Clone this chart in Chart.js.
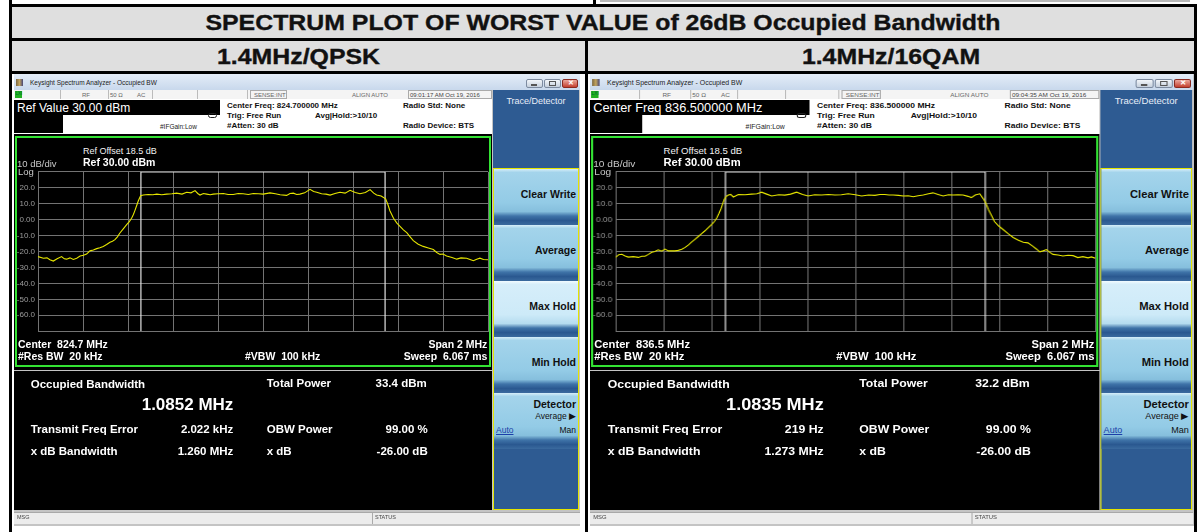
<!DOCTYPE html>
<html>
<head>
<meta charset="utf-8">
<script src="https://cdn.jsdelivr.net/npm/chart.js@4.4.1/dist/chart.umd.min.js"></script>
<style>
body{margin:0;width:1197px;height:532px;background:#fff;position:relative;overflow:hidden;font-family:"Liberation Sans",Arial,sans-serif;}
.a{position:absolute;white-space:pre;line-height:1;}
.big{position:absolute;font-weight:bold;font-size:22px;line-height:1;color:#111;white-space:pre;transform:scaleX(1.13);transform-origin:50% 0;text-align:center;-webkit-text-stroke:0.35px #111;}
.win{position:absolute;top:74px;width:566px;height:452px;transform-origin:0 0;background:#c4c4c4;}
.key{background:linear-gradient(#d6eef9 0%,#a4d4eb 6%,#93cbe6 60%,#86bfdd 76%,#3f73a8 84%,#2a5890 92%,#3a6a9e 100%);}
.key.sel{background:linear-gradient(#f2fbff 0%,#d6eefa 6%,#cdeaf8 60%,#b5dcef 76%,#3f73a8 84%,#2a5890 92%,#3a6a9e 100%);}
</style>
</head>
<body>
<script>
// trace 1.4MHz/QPSK : offset from centre (MHz), level (dBm)
const qpskFreq = [-1.000,-0.976,-0.960,-0.947,-0.932,-0.915,-0.895,-0.883,-0.873,-0.858,-0.843,-0.828,-0.813,-0.798,-0.784,-0.769,-0.754,-0.739,-0.725,-0.710,-0.695,-0.680,-0.669,-0.658,-0.647,-0.636,-0.621,-0.606,-0.595,-0.584,-0.576,-0.569,-0.561,-0.554,-0.544,-0.532,-0.510,-0.490,-0.472,-0.450,-0.428,-0.405,-0.384,-0.360,-0.339,-0.320,-0.302,-0.290,-0.280,-0.265,-0.250,-0.235,-0.221,-0.200,-0.176,-0.155,-0.132,-0.110,-0.088,-0.065,-0.043,-0.020,0.001,0.031,0.055,0.076,0.105,0.120,0.135,0.150,0.164,0.185,0.209,0.225,0.239,0.260,0.280,0.298,0.320,0.342,0.365,0.387,0.410,0.431,0.455,0.476,0.492,0.505,0.525,0.545,0.555,0.564,0.580,0.595,0.609,0.624,0.639,0.654,0.668,0.690,0.712,0.735,0.757,0.772,0.787,0.800,0.816,0.840,0.861,0.880,0.905,0.920,0.935,0.950,0.964,0.980,1.000];
const qpskLevel = [-23.2,-24.2,-24.0,-25.2,-26.0,-24.5,-23.2,-24.6,-24.8,-24.0,-25.0,-24.2,-22.8,-22.4,-21.6,-19.6,-19.0,-18.2,-17.6,-16.8,-15.6,-14.2,-13.6,-12.6,-10.8,-8.4,-5.8,-3.2,-1.4,0.8,3.2,5.8,9.0,11.8,15.0,15.4,15.8,15.6,16.0,15.6,16.0,16.2,16.6,16.0,17.2,16.8,18.2,16.4,15.4,16.4,16.0,15.6,16.0,16.2,16.4,15.8,15.8,16.4,16.2,15.8,16.4,16.2,16.0,16.8,16.2,15.6,15.2,16.4,16.6,15.8,16.0,16.8,19.0,17.6,17.2,16.2,16.0,15.4,16.4,17.2,16.6,18.4,17.0,16.2,17.0,18.8,16.6,15.4,14.8,13.0,9.5,5.6,0.8,-2.2,-4.2,-6.4,-8.2,-10.8,-13.2,-15.4,-16.8,-17.8,-18.8,-20.6,-21.8,-21.6,-22.8,-23.8,-24.8,-24.0,-24.2,-25.0,-25.8,-24.8,-24.2,-25.0,-25.2];
// trace 1.4MHz/16QAM
const qamFreq = [-1.000,-0.987,-0.974,-0.960,-0.947,-0.926,-0.905,-0.890,-0.877,-0.863,-0.849,-0.836,-0.822,-0.808,-0.794,-0.780,-0.766,-0.752,-0.739,-0.724,-0.710,-0.696,-0.682,-0.669,-0.655,-0.641,-0.627,-0.613,-0.599,-0.588,-0.578,-0.569,-0.560,-0.553,-0.547,-0.538,-0.530,-0.520,-0.509,-0.498,-0.488,-0.460,-0.433,-0.410,-0.391,-0.370,-0.349,-0.320,-0.294,-0.270,-0.245,-0.220,-0.197,-0.170,-0.141,-0.112,-0.085,-0.058,-0.030,0.000,0.026,0.055,0.081,0.102,0.123,0.140,0.158,0.180,0.200,0.221,0.241,0.262,0.283,0.305,0.324,0.345,0.366,0.388,0.408,0.428,0.449,0.470,0.484,0.500,0.519,0.533,0.544,0.556,0.570,0.580,0.598,0.616,0.637,0.658,0.680,0.700,0.720,0.741,0.755,0.769,0.783,0.797,0.810,0.824,0.845,0.866,0.887,0.908,0.928,0.949,0.970,0.985,1.000];
const qamLevel = [-23.7,-22.0,-21.7,-22.8,-23.5,-23.2,-23.7,-23.0,-23.0,-21.8,-20.5,-20.0,-18.9,-19.8,-18.5,-19.6,-19.5,-19.6,-19.3,-18.6,-17.4,-15.8,-14.0,-12.4,-10.6,-8.8,-7.0,-5.0,-3.0,-1.2,1.0,3.8,7.0,10.0,12.6,14.6,15.4,15.8,14.2,15.0,15.8,15.6,16.0,16.2,17.2,16.0,14.8,15.6,15.4,16.0,17.2,15.8,14.8,15.6,15.4,15.8,15.4,15.6,16.2,15.6,14.8,15.4,15.2,15.8,15.8,15.4,15.4,15.2,14.8,15.0,14.4,15.0,15.4,16.2,16.8,15.8,14.8,15.6,15.4,15.6,15.4,14.6,13.8,15.4,16.2,13.2,10.4,6.0,2.0,-1.2,-4.0,-6.2,-8.8,-11.2,-13.0,-14.2,-14.6,-16.8,-18.4,-20.2,-19.6,-18.8,-20.4,-21.8,-22.2,-22.8,-22.4,-22.6,-23.8,-23.2,-24.0,-23.4,-24.2];
// occupied bandwidth edges (MHz offset)
const obwQpsk = [-0.5426, 0.5426];
const obwQam = [-0.5418, 0.5418];
const yRange = [-70, 30];

const panels = [
  {left: 14, sx: 1, title: "1.4MHz/QPSK", stamp: "09:01:17 AM Oct 19, 2016", refBox: "Ref Value 30.00 dBm",
   cf: "824.700000 MHz", center: "824.7 MHz", obw: "1.0852 MHz", power: "33.4 dBm", ferr: "2.022 kHz", xbw: "1.260 MHz",
   freq: qpskFreq, level: qpskLevel, edges: obwQpsk},
  {left: 590, sx: 1.0656, title: "1.4MHz/16QAM", stamp: "09:04:35 AM Oct 19, 2016", refBox: "Center Freq 836.500000 MHz",
   cf: "836.500000 MHz", center: "836.5 MHz", obw: "1.0835 MHz", power: "32.2 dBm", ferr: "219 Hz", xbw: "1.273 MHz",
   freq: qamFreq, level: qamLevel, edges: obwQam},
];

// text placed by its cap-top
function t(x, cap, fs, s, css) {
  return `<div class="a" style="left:${x}px;top:${(cap - 0.13 * fs).toFixed(1)}px;font-size:${fs}px;${css || ""}">${s}</div>`;
}
function tr(r, cap, fs, s, css) {
  return `<div class="a" style="right:${(566 - r).toFixed(1)}px;top:${(cap - 0.13 * fs).toFixed(1)}px;font-size:${fs}px;${css || ""}">${s}</div>`;
}
function box(x, y, w, h, css) {
  return `<div class="a" style="left:${x}px;top:${y}px;width:${w}px;height:${h}px;${css}"></div>`;
}

// table frame
let page = "";
page += box(9, 4, 1188, 3, "background:#000");
page += box(593, 0, 3, 4, "background:#000");
page += box(600, 0, 590, 2, "background:#b8b8b8");
page += box(12, 7, 1182, 31, "background:#dfdfdf");
page += box(9, 38, 1188, 3, "background:#000");
page += box(12, 41, 1182, 30, "background:#dfdfdf");
page += box(9, 71, 1188, 3, "background:#000");
page += box(9, 0, 3, 532, "background:#000");
page += box(585, 41, 3, 491, "background:#000");
page += box(1194, 4, 3, 528, "background:#000");
page += `<div class="big" style="left:12px;width:1182px;top:12.1px">SPECTRUM PLOT OF WORST VALUE of 26dB Occupied Bandwidth</div>`;
page += `<div class="big" style="left:12px;width:573px;top:46.4px">${panels[0].title}</div>`;
page += `<div class="big" style="left:588px;width:606px;top:46.4px">${panels[1].title}</div>`;
document.body.insertAdjacentHTML("beforeend", page);

const wbtn = "background:linear-gradient(#f3f6fa,#c5d0dd);border:1px solid #7d8ba0;border-radius:2px;box-sizing:border-box";

function buildWindow(p, idx) {
  const w = document.createElement("div");
  w.className = "win";
  w.style.left = p.left + "px";
  w.style.transform = `scaleX(${p.sx})`;
  let h = "";
  // title bar
  h += box(0, 0, 566, 16, "background:linear-gradient(#e4edf8,#c8d8ec)");
  h += box(2, 5, 7, 7, "background:linear-gradient(90deg,#7a6640,#c2a460,#464678)");
  h += t(16, 7, 6.5, "Keysight Spectrum Analyzer - Occupied BW", "color:#222");
  h += box(512, 5, 17, 9, wbtn);
  h += box(530, 5, 17, 9, wbtn);
  h += box(548, 5, 16, 9, "background:linear-gradient(#eba79d,#c4402f);border:1px solid #8a2a20;border-radius:2px;box-sizing:border-box");
  h += box(517, 10, 6, 2, "background:#555");
  h += box(535, 7, 7, 5, "border:1px solid #555;box-sizing:border-box");
  h += t(553.5, 7.2, 6.5, "✕", "color:#fff;font-weight:bold");
  // status row
  h += box(0, 16, 478, 9, "background:#f4f4f4");
  h += box(1, 17, 7, 7, "background:#21b021");
  h += t(1.5, 19, 4.5, "LXI", "color:#063");
  [46, 94, 138, 183, 233].forEach(x => { h += box(x, 16, 1, 9, "background:#bbb"); });
  h += box(236, 16, 37, 9, "border:1px solid #aaa;box-sizing:border-box");
  h += box(394, 16, 84, 9, "border:1px solid #aaa;box-sizing:border-box");
  h += t(68, 18.6, 6, "RF", "color:#666");
  h += t(96, 18.6, 6, "50 Ω", "color:#666");
  h += t(123, 18.6, 6, "AC", "color:#666");
  h += t(240, 18.6, 6, "SENSE:INT", "color:#666");
  h += t(338, 18.6, 6, "ALIGN AUTO", "color:#666");
  h += t(396, 18.6, 6, p.stamp, "color:#444");
  // measurement header
  h += box(0, 25, 478, 35, "background:#fff");
  h += box(0, 26, 206, 15, "background:#000");
  h += box(0, 41, 49, 18, "background:#000");
  h += t(3, 30, 12, p.refBox, "color:#fff");
  h += t(213, 29.3, 8, "Center Freq: " + p.cf, "font-weight:bold;color:#111");
  h += t(213, 38.7, 8, "Trig: Free Run", "font-weight:bold;color:#111");
  h += t(213, 49, 8, "#Atten: 30 dB", "font-weight:bold;color:#111");
  h += t(301, 38.7, 8, "Avg|Hold:>10/10", "font-weight:bold;color:#111");
  h += t(389, 29.3, 8, "Radio Std: None", "font-weight:bold;color:#111");
  h += t(389, 49.3, 8, "Radio Device: BTS", "font-weight:bold;color:#111");
  h += t(146, 51, 6.5, "#IFGain:Low", "color:#222");
  h += box(194, 39, 9, 5, "border:1px solid #222;border-radius:3px;box-sizing:border-box");
  // graticule panel
  h += box(0, 60, 478, 236, "background:#000");
  h += box(1, 62, 476, 231, "border:2px solid #33e233;box-sizing:border-box");
  h += `<canvas id="c${idx}" width="472" height="175" class="a" style="left:3px;top:90px"></canvas>`;
  h += t(69, 73.7, 9, "Ref Offset 18.5 dB", "color:#f2f2f2");
  h += t(69, 84.3, 10.5, "Ref 30.00 dBm", "color:#fff;font-weight:bold");
  h += t(3, 86, 9.5, "10 dB/div", "color:#c8c8c8");
  h += t(4, 94.3, 9.5, "Log", "color:#c8c8c8");
  h += t(4, 266, 10.5, "Center  " + p.center, "color:#fff;font-weight:bold");
  h += t(4, 278.7, 10.5, "#Res BW  20 kHz", "color:#fff;font-weight:bold");
  h += t(231, 278.7, 10.5, "#VBW  100 kHz", "color:#fff;font-weight:bold");
  h += tr(473.3, 266, 10.5, "Span 2 MHz", "color:#fff;font-weight:bold");
  h += tr(473.3, 278.7, 10.5, "Sweep  6.067 ms", "color:#fff;font-weight:bold");
  // result panel
  const b = "color:#fff;font-weight:bold";
  h += box(0, 297, 478, 139, "background:#000");
  h += t(16.7, 306, 11.5, "Occupied Bandwidth", b);
  h += t(127.7, 324, 17, p.obw, b);
  h += t(252.7, 305.3, 11.5, "Total Power", b);
  h += tr(412.7, 305.3, 11.5, p.power, b);
  h += t(16.7, 351.7, 11.5, "Transmit Freq Error", b);
  h += tr(219.3, 351.7, 11.5, p.ferr, b);
  h += t(252.7, 351.7, 11.5, "OBW Power", b);
  h += tr(413.7, 351.7, 11.5, "99.00 %", b);
  h += t(16.7, 373, 11.5, "x dB Bandwidth", b);
  h += tr(219.3, 373, 11.5, p.xbw, b);
  h += t(252.7, 373, 11.5, "x dB", b);
  h += tr(413.7, 373, 11.5, "-26.00 dB", b);
  // status bar
  h += box(0, 438, 566, 12, "background:#ececec;border-top:1px solid #a8a8a8;box-sizing:border-box");
  h += box(358, 439, 1, 11, "background:#aaa");
  h += t(3, 442, 5.5, "MSG", "color:#444");
  h += t(361, 442, 5.5, "STATUS", "color:#444");
  // softkeys
  h += box(479, 16, 86, 420, "background:#2e5b92");
  h += `<div class="a" style="left:479px;width:86px;text-align:center;top:23.1px;font-size:9px;color:#e8eef8">Trace/Detector</div>`;
  h += box(479, 94, 86, 342, "border:1px solid #e4e400;box-sizing:border-box");
  ["Clear Write", "Average", "Max Hold", "Min Hold"].forEach((k, i) => {
    const y = 95 + 56 * i;
    h += `<div class="a key${k === "Max Hold" ? " sel" : ""}" style="left:480px;top:${y}px;width:84px;height:56px"></div>`;
    h += tr(562, y + 21, 10.5, k, "font-weight:bold;color:#111");
  });
  const dy = 95 + 224;
  h += `<div class="a key" style="left:480px;top:${dy}px;width:84px;height:56px"></div>`;
  h += tr(562, dy + 7, 10.5, "Detector", "font-weight:bold;color:#111");
  h += tr(562, dy + 20, 8.5, "Average ▶", "color:#111");
  h += t(482, dy + 34, 8.5, "Auto", "color:#1b3fa8;text-decoration:underline");
  h += tr(562, dy + 34, 8.5, "Man", "color:#111");
  w.innerHTML = h;
  document.body.appendChild(w);
  return w.querySelector("canvas");
}

function drawTrace(canvas, freq, level, edges) {
  const grid = "#737373";
  new Chart(canvas, {
    type: "line",
    data: {
      datasets: [
        {
          data: freq.map((f, i) => ({x: f, y: level[i]})),
          borderColor: "#e6e600",
          borderWidth: 1.1,
          pointRadius: 0,
          tension: 0,
        },
        {
          // OBW bracket
          data: [{x: edges[0], y: yRange[0]}, {x: edges[0], y: yRange[1]}, {x: edges[1], y: yRange[1]}, {x: edges[1], y: yRange[0]}],
          borderColor: "#e4e4e4",
          borderWidth: 1.2,
          pointRadius: 0,
        },
      ],
    },
    options: {
      responsive: false,
      animation: false,
      events: [],
      layout: {padding: {top: 4, bottom: 4, right: 1, left: 0}},
      plugins: {legend: {display: false}, tooltip: {enabled: false}},
      scales: {
        x: {
          type: "linear",
          min: -1,
          max: 1,
          ticks: {display: false, stepSize: 0.2},
          grid: {color: grid, drawTicks: false},
          border: {color: grid},
        },
        y: {
          min: yRange[0],
          max: yRange[1],
          ticks: {
            stepSize: 10,
            padding: 3,
            color: "#9c9c9c",
            font: {size: 8, family: "Liberation Sans"},
            callback: v => (v === yRange[0] || v === yRange[1]) ? "" : (v === 0 ? "0.00" : v.toFixed(1)),
          },
          grid: {color: grid, drawTicks: false},
          border: {color: grid},
          afterFit(scale) { scale.width = 21; },
        },
      },
    },
  });
}

panels.forEach((p, i) => {
  const cv = buildWindow(p, i);
  drawTrace(cv, p.freq, p.level, p.edges);
});
</script>
</body>
</html>
